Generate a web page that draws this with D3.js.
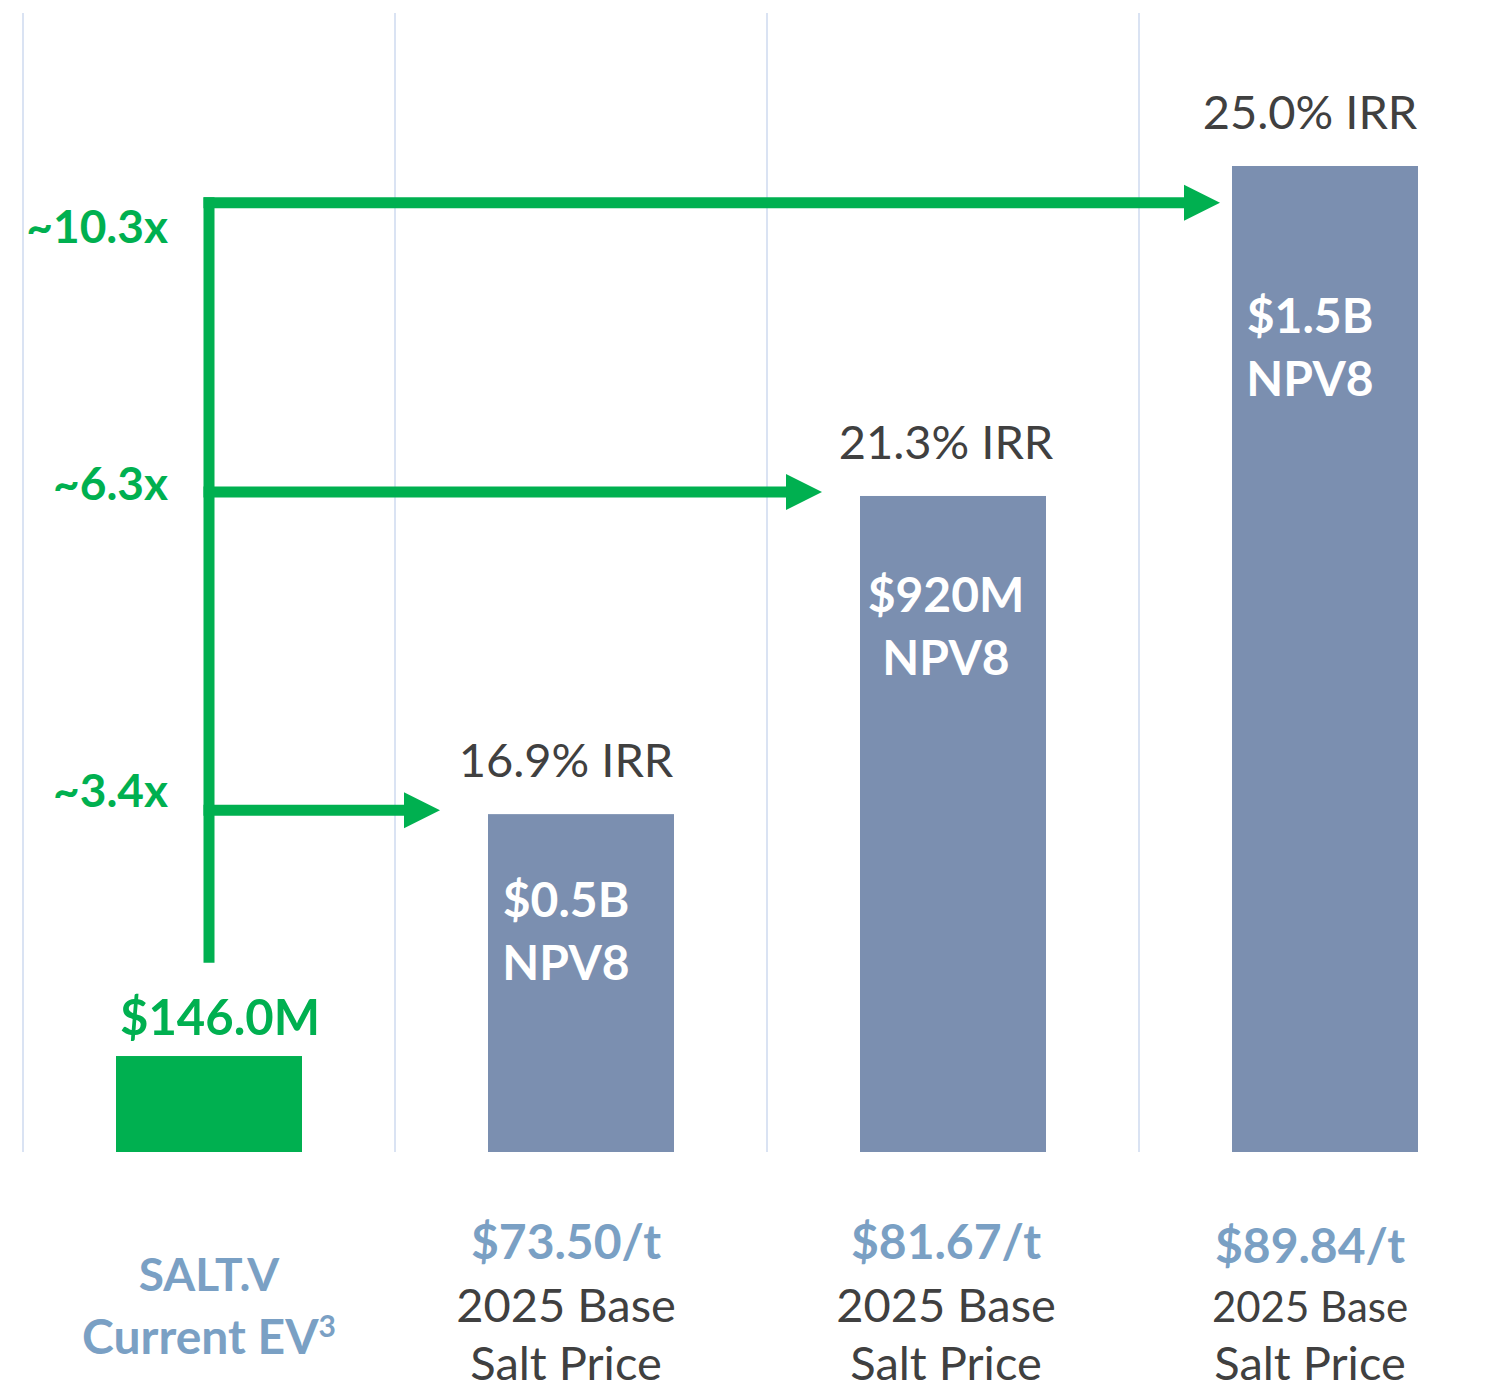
<!DOCTYPE html>
<html lang="en">
<head>
    <meta charset="UTF-8">
    <title>SALT.V EV vs NPV8</title>
    <style>
        body { margin: 0; background: #fff; }
        svg { display: block; }
        text { font-family: Lato, "Noto Sans", sans-serif; }
        .grid { stroke: #dae3f3; stroke-width: 2; }
        .bar { fill: #7b8fb0; }
        .bar.ev { fill: #00b050; }
        .arrow { stroke: #00b050; stroke-width: 11; fill: none; }
        .head { fill: #00b050; }
        .mult { fill: #00b050; font-weight: 700; font-size: 46px; }
        .ev-label { fill: #00b050; font-weight: 700; font-size: 49px; }
        .irr { fill: #404040; font-size: 47px; }
        .inner { fill: #fff; font-weight: 700; font-size: 48px; }
        .price { fill: #7aa0c4; font-weight: 700; font-size: 48px; }
        .sub { fill: #404040; font-size: 47px; }
    </style>
</head>
<body>
    <svg width="1496" height="1390"></svg>
    <script src="https://d3js.org/d3.v7.min.js"></script>
    <script>
        // chart data
        var columns = ["ev", "low", "mid", "high"];
        var values = [146, 514, 998, 1500];          // $M, bar heights as drawn
        var valueLabels = ["$146.0M", "$0.5B", "$920M", "$1.5B"];
        var irrLabels = ["", "16.9% IRR", "21.3% IRR", "25.0% IRR"];
        var priceLabels = ["", "$73.50/t", "$81.67/t", "$89.84/t"];
        var multiples = ["~3.4x", "~6.3x", "~10.3x"];
        var arrowLevels = [520, 1004, 1444];         // in $M on the y scale
        var arrowStart = 288;

        var svg = d3.select("svg");

        var x = d3.scaleBand().domain(columns).range([23, 1511])
            .paddingInner(0.5).paddingOuter(0.25);
        var y = d3.scaleLinear().domain([0, 1500]).range([1152, 166]);
        var bw = x.bandwidth();

        // layout tweaks
        var textShift = [0, -15, -7, -15];
        var innerOffset = [0, 103, 116, 167];
        var tipGap = [48, 38, 12];
        var multDy = [-3, 8, 40];

        // vertical grid lines at band edges
        svg.selectAll(".grid")
            .data(columns)
            .enter().append("line")
            .attr("class", "grid")
            .attr("x1", function(d) { return x(d) - x.step() * 0.25; })
            .attr("x2", function(d) { return x(d) - x.step() * 0.25; })
            .attr("y1", 13)
            .attr("y2", y(0));

        svg.selectAll(".bar")
            .data(columns)
            .enter().append("rect")
            .attr("class", function(d, i) { return i === 0 ? "bar ev" : "bar"; })
            .attr("x", function(d) { return x(d); })
            .attr("y", function(d, i) { return y(values[i]); })
            .attr("width", bw)
            .attr("height", function(d, i) { return y(0) - y(values[i]); });

        // arrows
        var cx0 = x("ev") + bw / 2;
        var topY = y(arrowLevels[2]) - 5.5;
        svg.append("line")
            .attr("class", "arrow")
            .attr("x1", cx0).attr("x2", cx0)
            .attr("y1", topY).attr("y2", y(arrowStart));

        arrowLevels.forEach(function(v, i) {
            var ay = y(v);
            var tip = x(columns[i + 1]) - tipGap[i];
            svg.append("line")
                .attr("class", "arrow")
                .attr("x1", cx0 - 5.5).attr("x2", tip - 34)
                .attr("y1", ay).attr("y2", ay);
            svg.append("path")
                .attr("class", "head")
                .attr("d", "M" + (tip - 36) + "," + (ay - 18) + "L" + tip + "," + ay +
                           "L" + (tip - 36) + "," + (ay + 18) + "Z");
            svg.append("text")
                .attr("class", "mult")
                .attr("x", 168)
                .attr("y", ay + multDy[i])
                .attr("text-anchor", "end")
                .text(multiples[i]);
        });

        function cx(i) { return x(columns[i]) + bw / 2 + textShift[i]; }

        // EV label above green bar
        svg.append("text")
            .attr("class", "ev-label")
            .attr("x", cx(0) + 11)
            .attr("y", y(values[0]) - 21)
            .attr("text-anchor", "middle")
            .text(valueLabels[0]);

        // IRR labels and NPV labels
        columns.forEach(function(c, i) {
            if (i === 0) return;
            svg.append("text")
                .attr("class", "irr")
                .attr("x", cx(i))
                .attr("y", y(values[i]) - 37)
                .attr("text-anchor", "middle")
                .text(irrLabels[i]);
            var t = svg.append("text")
                .attr("class", "inner")
                .attr("text-anchor", "middle");
            t.append("tspan").attr("x", cx(i)).attr("y", y(values[i]) + innerOffset[i])
                .text(valueLabels[i]);
            t.append("tspan").attr("x", cx(i)).attr("y", y(values[i]) + innerOffset[i] + 63)
                .text("NPV8");
        });

        // category labels below
        svg.append("text")
            .attr("class", "price")
            .attr("text-anchor", "middle")
            .attr("x", cx(0)).attr("y", 1291)
            .style("font-size", "46px")
            .text("SALT.V");
        var ev = svg.append("text")
            .attr("class", "price")
            .attr("text-anchor", "middle")
            .attr("x", cx(0)).attr("y", 1354);
        ev.append("tspan").text("Current EV");
        ev.append("tspan").attr("dy", -17).style("font-size", "30px").text("3");

        columns.forEach(function(c, i) {
            if (i === 0) return;
            var last = i === columns.length - 1;
            svg.append("text")
                .attr("class", "price")
                .attr("text-anchor", "middle")
                .attr("x", cx(i)).attr("y", last ? 1263 : 1259)
                .text(priceLabels[i]);
            svg.append("text")
                .attr("class", "sub")
                .attr("text-anchor", "middle")
                .attr("x", cx(i)).attr("y", 1322)
                .style("font-size", last ? "42px" : null)
                .text("2025 Base");
            svg.append("text")
                .attr("class", "sub")
                .attr("text-anchor", "middle")
                .attr("x", cx(i)).attr("y", 1380)
                .text("Salt Price");
        });
    </script>
</body>
</html>
